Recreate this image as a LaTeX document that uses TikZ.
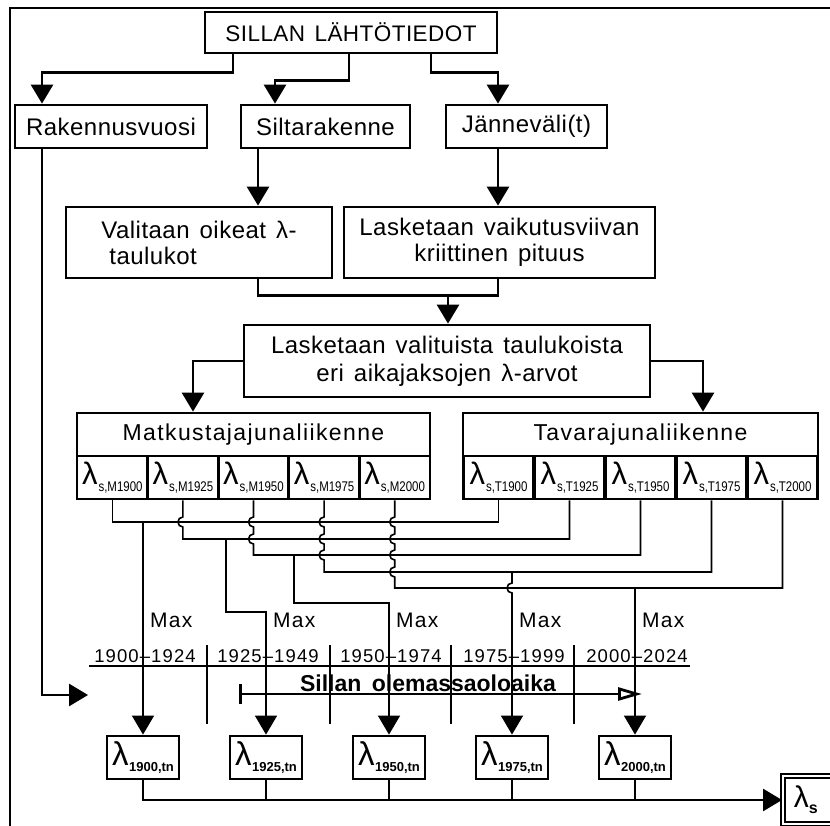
\documentclass[tikz,border=0pt]{standalone}
\usepackage{fontspec}
\setmainfont[LetterSpace=2,WordSpace=1.4]{Liberation Sans}
\newfontfamily\geo[LetterSpace=6]{Liberation Sans}
\newfontfamily\nar[FakeStretch=0.82]{Liberation Sans}
\newfontfamily\lamfont{Liberation Sans}
\usetikzlibrary{arrows.meta,calc}
\newcommand\fs[1]{\fontsize{#1}{#1}\selectfont}
\newcommand\fsb[2]{\fontsize{#1}{#2}\selectfont}
\newcommand\lamM[1]{{\lamfont\fs{31}λ}\hspace{1pt}\raisebox{-7pt}{\nar\fs{14}#1}}
\newcommand\lamB[1]{{\lamfont\fs{33}λ}\hspace{0.5pt}\raisebox{-6pt}{\lamfont\bfseries\fs{13}#1}}
\newcommand\hopat[2]{-- ($(#1|-#2)+(0,-5)$) arc[start angle=90,end angle=270,radius=5pt]}
\begin{document}
\begin{tikzpicture}[x=1pt,y=-1pt,
 box/.style={draw,line width=2.8pt,inner sep=0pt,font=\fs{24}},
 cell/.style={draw,line width=2.8pt,inner sep=0pt,minimum width=70.6pt,minimum height=43pt},
 bbox/.style={draw,line width=2.8pt,inner sep=0pt,minimum width=72pt,minimum height=43pt},
 conn/.style={line width=2.8pt,-{Triangle[length=19pt,width=22pt]}},
 plain/.style={line width=2.8pt},
 wire/.style={line width=1.6pt},
 mconn/.style={line width=1.6pt,-{Triangle[length=19pt,width=22pt]}},
 tline/.style={line width=1.1pt},
 lbl/.style={inner sep=0pt,anchor=base west,font=\geo\fs{21}},
 yr/.style={inner sep=0pt,anchor=base,font=\geo\fs{18.5}},
]
\useasboundingbox (0,0) rectangle (830,826);
\clip (0,0) rectangle (830,826);
% frame
\draw[line width=2.5pt] (10,840) -- (10,8) -- (840,8);
% top boxes
\node[box,minimum width=292pt,minimum height=41pt,font=\fs{22.5}] (top) at (351,32.5) {SILLAN LÄHTÖTIEDOT};
\node[box,minimum width=192pt,minimum height=43pt] (rak) at (111,126.5) {Rakennusvuosi};
\node[box,minimum width=169pt,minimum height=43pt] (silt) at (325.5,126.5) {Siltarakenne};
\node[box,minimum width=161pt,minimum height=43pt] (jan) at (526.5,126.5) {Jänneväli(t)};
\node[box,minimum width=266pt,minimum height=71pt,align=left,font=\fsb{24}{26}] (val) at (199,242.5) {Valitaan oikeat λ-\\\hspace{8pt}taulukot};
\node[box,minimum width=311pt,minimum height=71pt,align=center,font=\fsb{24}{26}] (lask) at (499.5,242.5) {Lasketaan vaikutusviivan\\kriittinen pituus};
\node[box,minimum width=406pt,minimum height=72pt,align=center,font=\fsb{24}{28}] (calc) at (447,361) {Lasketaan valituista taulukoista\\eri aikajaksojen λ-arvot};
% traffic blocks
\node[box,minimum width=353pt,minimum height=43pt,font=\geo\fs{23}] (mat) at (253.5,434.5) {Matkustajajunaliikenne};
\node[box,minimum width=355pt,minimum height=43pt,font=\geo\fs{23}] (tav) at (640.5,434.5) {Tavarajunaliikenne};
\foreach \i/\yy in {1/1900,2/1925,3/1950,4/1975,5/2000}{
  \node[cell] (m\i) at ({77+70.6*(\i-0.5)},477.5) {\lamM{s,M\yy}};
  \node[cell] (t\i) at ({463+71*(\i-0.5)},477.5) {\lamM{s,T\yy}};
}
% bottom boxes
\foreach \i/\x/\yy in {1/143/1900,2/266/1925,3/389/1950,4/512/1975,5/635/2000}
  \node[bbox] (b\i) at (\x,757.5) {\lamB{\yy,tn}};
\node[draw,double,line width=1.6pt,double distance=2.5pt,minimum height=48pt,text width=68pt,align=left,inner xsep=11pt,inner ysep=0pt,anchor=west] (ls) at (782,800) {\lamfont\fs{30}λ\raisebox{-6pt}{\bfseries\fs{16}s}};
% upper connectors
\draw[conn] ([xshift=-118pt]top.south) -- ++(0,18) -| ([xshift=-69pt]rak.north);
\draw[conn] ([xshift=-2pt]top.south) -- ++(0,26) -| ([xshift=-50.5pt]silt.north);
\draw[conn] ([xshift=80pt]top.south) -- ++(0,18) -| ([xshift=-28.5pt]jan.north);
\draw[conn] ([xshift=-67.5pt]silt.south) -- ([xshift=59pt]val.north);
\draw[conn] ([xshift=-28.5pt]jan.south) -- ([xshift=-1.5pt]lask.north);
\draw[plain] ([xshift=59pt]val.south) -- ++(0,16) -| ([xshift=-1.5pt]lask.south);
\coordinate (j) at (448,294);
\draw[conn] (j) -- (j |- calc.north);
\draw[conn] (calc.west) -| ([xshift=-60.5pt]mat.north);
\draw[conn] (calc.east) -| ([xshift=62.5pt]tav.north);
\coordinate (tl) at (88,695);
\draw[conn] ([xshift=-69pt]rak.south) |- (tl);
% wire levels
\coordinate (L1) at (0,522);
\coordinate (L2) at (0,539);
\coordinate (L3) at (0,555);
\coordinate (L4) at (0,572);
\coordinate (L5) at (0,588);
\draw[wire] (m1.south) -- (m1.south|-L1) -- (t1.south|-L1) -- (t1.south);
\draw[wire] (m2.south) \hopat{m2.south}{L1} -- (m2.south|-L2) -- (t2.south|-L2) -- (t2.south);
\draw[wire] (m3.south) \hopat{m3.south}{L1} \hopat{m3.south}{L2} -- (m3.south|-L3) -- (t3.south|-L3) -- (t3.south);
\draw[wire] (m4.south) \hopat{m4.south}{L1} \hopat{m4.south}{L2} \hopat{m4.south}{L3} -- (m4.south|-L4) -- (t4.south|-L4) -- (t4.south);
\draw[wire] (m5.south) \hopat{m5.south}{L1} \hopat{m5.south}{L2} \hopat{m5.south}{L3} \hopat{m5.south}{L4} -- (m5.south|-L5) -- (t5.south|-L5) -- (t5.south);
% max connectors
\coordinate (J2) at (226,539);
\coordinate (J3) at (294,555);
\coordinate (J4) at (512,572);
\draw[mconn] (b1.north|-L1) -- (b1.north);
\draw[mconn] (J2) -- ++(0,73) -| (b2.north);
\draw[mconn] (J3) -- ++(0,48) -| (b3.north);
\draw[mconn] (J4) \hopat{J4}{L5} -- (b4.north);
\draw[mconn] (b5.north|-L5) -- (b5.north);
\foreach \x in {143,266,389,512,635}
  \node[lbl] at (\x+7,627) {Max};
% timeline
\draw[tline] (89,666) -- (690,666);
\foreach \x in {207,330,451,574}
  \draw[tline] (\x,645) -- (\x,724);
\foreach \x/\a/\b in {145/1900/1924,268/1925/1949,391/1950/1974,514/1975/1999,637/2000/2024}
  \node[yr] at (\x,662) {\a–\b};
\node[inner sep=0pt,anchor=base,font=\lamfont\bfseries\fs{23}] (life) at (428,691) {Sillan\hspace{4pt} olemassaoloaika};
\draw[line width=2.8pt,{Bar[width=20pt]}-{Triangle[open,length=24pt,width=13pt]}] (239,694) -- (642,694);
% bottom join
\draw[conn] (b1.south) |- (ls.west);
\foreach \i in {2,...,5}
  \draw[plain] (b\i.south) -- (b\i.south|-ls.west);
\end{tikzpicture}
\end{document}
